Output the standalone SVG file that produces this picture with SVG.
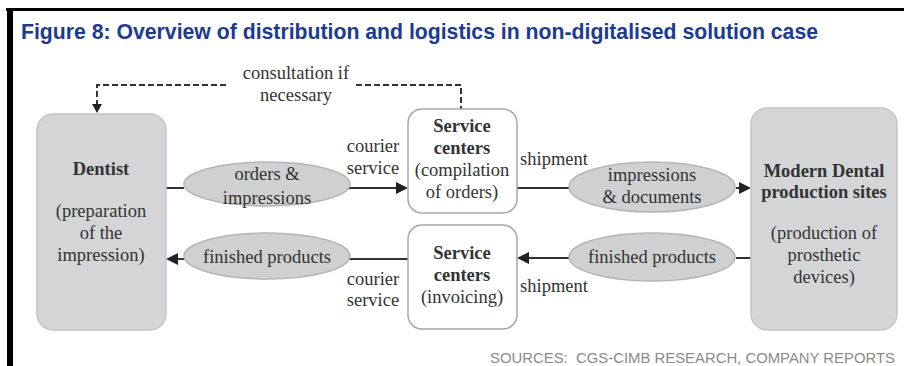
<svg xmlns="http://www.w3.org/2000/svg" width="904" height="366" viewBox="0 0 904 366">
  <style>
    .title { font-family: "Liberation Sans", Arial, sans-serif; font-weight: bold; font-size: 22px; fill: #1b3a94; }
    .src { font-family: "Liberation Sans", Arial, sans-serif; font-size: 15px; fill: #8a8a8a; }
    .t { font-family: "Liberation Serif", "DejaVu Serif", "Times New Roman", serif; font-size: 18.5px; fill: #333; text-anchor: middle; }
    .b { font-weight: bold; }
    .grey { fill: #d4d5d7; stroke: #c4c5c7; stroke-width: 1.5; }
    .white { fill: #fff; stroke: #a8a8a8; stroke-width: 1.5; }
    .oval { fill: #cfd0d2; stroke: #b4b5b7; stroke-width: 1.5; }
    .line { stroke: #333; stroke-width: 2; fill: none; }
    .dash { stroke: #333; stroke-width: 2; fill: none; stroke-dasharray: 6 3; }
    .head { fill: #222; }
  </style>

  <!-- frame -->
  <rect x="0" y="0" width="904" height="366" fill="#fff"/>
  <rect x="6" y="8" width="898" height="3" fill="#000"/>
  <rect x="7" y="8" width="6" height="358" fill="#000"/>

  <text class="title" x="21" y="39" textLength="797" lengthAdjust="spacingAndGlyphs">Figure 8: Overview of distribution and logistics in non-digitalised solution case</text>

  <!-- connectors -->
  <g id="connectors">
    <path class="dash" d="M226,85 H97 V106"/>
    <path class="head" d="M92,104 L102,104 L97,113 z"/>
    <path class="dash" d="M356,85 H461 V109"/>
    <path class="line" d="M166,188 H184"/>
    <path class="line" d="M349,188 H398"/>
    <path class="head" d="M396,182 L408,188 L396,194 z"/>
    <path class="line" d="M408,259 H349"/>
    <path class="line" d="M184,259 H176"/>
    <path class="head" d="M178,253 L166,259 L178,265 z"/>
    <path class="line" d="M517,188 H569"/>
    <path class="line" d="M736,188 H741"/>
    <path class="head" d="M739,182 L751,188 L739,194 z"/>
    <path class="line" d="M751,258 H736"/>
    <path class="line" d="M569,258 H527"/>
    <path class="head" d="M529,252 L517,258 L529,264 z"/>
  </g>

  <!-- edge labels -->
  <text class="t" x="296" y="79">consultation if</text>
  <text class="t" x="296" y="101">necessary</text>
  <text class="t" x="373" y="152">courier</text>
  <text class="t" x="373" y="174">service</text>
  <text class="t" x="373" y="285">courier</text>
  <text class="t" x="373" y="306">service</text>
  <text class="t" x="554" y="165">shipment</text>
  <text class="t" x="554" y="292">shipment</text>

  <g id="dentist">
    <rect class="grey" x="37" y="114" width="129" height="216" rx="16"/>
    <text class="t b" x="101" y="175">Dentist</text>
    <text class="t" x="101" y="217">(preparation</text>
    <text class="t" x="101" y="239">of the</text>
    <text class="t" x="101" y="261">impression)</text>
  </g>

  <g id="service-orders">
    <rect class="white" x="408" y="109" width="109" height="104" rx="14"/>
    <text class="t b" x="462" y="132">Service</text>
    <text class="t b" x="462" y="154">centers</text>
    <text class="t" x="462" y="176">(compilation</text>
    <text class="t" x="462" y="198">of orders)</text>
  </g>

  <g id="service-invoicing">
    <rect class="white" x="408" y="225" width="109" height="104" rx="14"/>
    <text class="t b" x="462" y="259">Service</text>
    <text class="t b" x="462" y="281">centers</text>
    <text class="t" x="462" y="303">(invoicing)</text>
  </g>

  <g id="production-sites">
    <rect class="grey" x="751" y="108" width="146" height="222" rx="16"/>
    <text class="t b" x="824" y="177">Modern Dental</text>
    <text class="t b" x="824" y="198">production sites</text>
    <text class="t" x="824" y="239">(production of</text>
    <text class="t" x="824" y="261">prosthetic</text>
    <text class="t" x="824" y="283">devices)</text>
  </g>

  <g id="orders-impressions">
    <ellipse class="oval" cx="267" cy="184" rx="83" ry="22"/>
    <text class="t" x="267" y="180">orders &amp;</text>
    <text class="t" x="267" y="204">impressions</text>
  </g>

  <g id="finished-products-left">
    <ellipse class="oval" cx="267" cy="256" rx="83" ry="23"/>
    <text class="t" x="267" y="263">finished products</text>
  </g>

  <g id="impressions-documents">
    <ellipse class="oval" cx="652" cy="187" rx="83" ry="25"/>
    <text class="t" x="652" y="181">impressions</text>
    <text class="t" x="652" y="203">&amp; documents</text>
  </g>

  <g id="finished-products-right">
    <ellipse class="oval" cx="652" cy="257" rx="83" ry="24"/>
    <text class="t" x="652" y="263">finished products</text>
  </g>

  <text class="src" x="490" y="363" textLength="405" lengthAdjust="spacingAndGlyphs" xml:space="preserve">SOURCES:  CGS-CIMB RESEARCH, COMPANY REPORTS</text>
</svg>
